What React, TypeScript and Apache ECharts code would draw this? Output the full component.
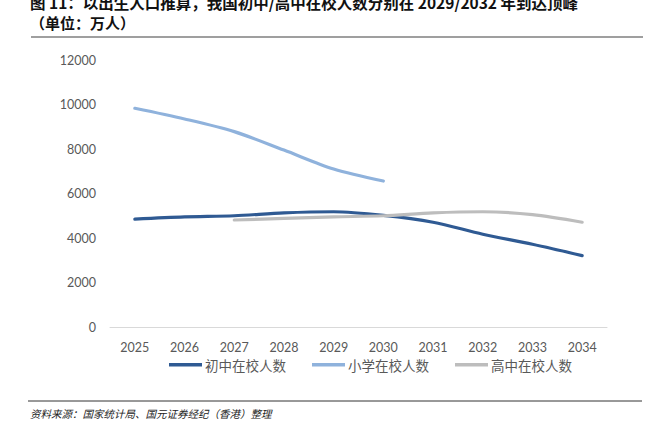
import React, { useEffect, useRef } from "react";
import * as echarts from "echarts";

const years = ["2025", "2026", "2027", "2028", "2029", "2030", "2031", "2032", "2033", "2034"];
const juniorHigh = [4850, 4950, 5000, 5130, 5180, 5020, 4710, 4170, 3720, 3210];
const primary = [9830, 9350, 8780, 7950, 7100, 6560, null, null, null, null];
const seniorHigh = [null, null, 4810, 4880, 4950, 5000, 5130, 5180, 5050, 4710];
const seriesNames = ["初中在校人数", "小学在校人数", "高中在校人数"];
const titleLine1 = "图 11：以出生人口推算，我国初中/高中在校人数分别在 2029/2032 年到达顶峰";
const titleLine2 = "（单位：万人）";
const sourceText = "资料来源：国家统计局、国元证券经纪（香港）整理";

export default function App() {
  const ref = useRef<HTMLDivElement>(null);
  useEffect(() => {
    document.body.style.margin = "0";
    const chart = echarts.init(ref.current!, null, { renderer: "svg" });
    const colors = ["#2F5A93", "#8FB2DC", "#BDBDBD"];
    const mk = (name: string, data: (number | null)[], color: string) => ({
      name,
      type: "line",
      data,
      smooth: 0.3,
      symbol: "none",
      connectNulls: false,
      lineStyle: { width: 3.2, color, cap: "round", join: "round" },
      itemStyle: { color },
    });
    chart.setOption({
      animation: false,
      backgroundColor: "#ffffff",
      grid: { left: 110, right: 50, top: 60, bottom: 108 },
      xAxis: {
        type: "category",
        data: years,
        boundaryGap: true,
        axisLine: { lineStyle: { color: "#D9D9D9", width: 1 } },
        axisTick: { show: false },
        axisLabel: { color: "#595959", fontSize: 12.5, fontFamily: "Lato", margin: 14 },
      },
      yAxis: {
        type: "value",
        min: 0,
        max: 12000,
        interval: 2000,
        axisLine: { show: false },
        axisTick: { show: false },
        splitLine: { show: false },
        axisLabel: {
          color: "#595959",
          fontSize: 12.5,
          fontFamily: "Lato",
          margin: 14,
          formatter: (v: number) => String(v),
        },
      },
      legend: {
        left: 169,
        top: 358,
        padding: 0,
        icon: "rect",
        itemWidth: 33,
        itemHeight: 3.5,
        itemGap: 26,
        textStyle: { color: "#595959", fontSize: 13.5, fontFamily: "Noto Sans CJK SC", padding: [0, 0, 0, -2] },
        data: seriesNames,
      },
      series: [
        mk(seriesNames[0], juniorHigh, colors[0]),
        mk(seriesNames[1], primary, colors[1]),
        mk(seriesNames[2], seniorHigh, colors[2]),
      ],
      graphic: [
        {
          type: "text",
          left: 30,
          top: -6,
          style: { text: titleLine1, fill: "#111", font: "bold 15.5px 'Noto Sans CJK SC'", lineHeight: 16 },
        },
        {
          type: "text",
          left: 30,
          top: 15,
          style: { text: titleLine2, fill: "#111", font: "bold 15px 'Noto Sans CJK SC'", lineHeight: 15 },
        },
        {
          type: "line",
          shape: { x1: 31, y1: 37, x2: 643, y2: 37 },
          style: { stroke: "#7F7F7F", lineWidth: 1.5 },
        },
        {
          type: "line",
          shape: { x1: 28, y1: 401, x2: 642, y2: 401 },
          style: { stroke: "#333333", lineWidth: 1 },
        },
        {
          type: "text",
          left: 30,
          top: 408,
          style: { text: sourceText, fill: "#222", font: "italic 10.5px 'Noto Sans CJK SC'" },
        },
      ],
    });
    return () => chart.dispose();
  }, []);
  return <div ref={ref} style={{ width: 657, height: 435 }} />;
}
